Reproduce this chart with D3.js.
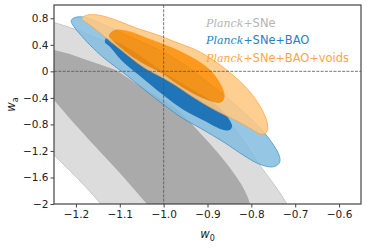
<!DOCTYPE html>
<html>
<head>
<meta charset="utf-8">
<title>w0 - wa constraints</title>
<script src="https://cdn.jsdelivr.net/npm/d3@7"></script>
<style>
  body { margin: 0; background: #fff; }
  text { font-family: "DejaVu Sans", sans-serif; }
</style>
</head>
<body>
<div id="chart"></div>
<script>

// ticks
const xTicks = [-1.2, -1.1, -1.0, -0.9, -0.8, -0.7, -0.6];
const yTicks = [0.8, 0.4, 0, -0.4, -0.8, -1.2, -1.6, -2];

// contour outlines, [w0, wa]
const sne95 = [[-1.305, 0.879], [-1.250, 0.739], [-1.214, 0.661], [-1.175, 0.563], [-1.134, 0.442],
  [-1.077, 0.246], [-1.008, -0.025], [-0.940, -0.312], [-0.894, -0.508], [-0.860, -0.689],
  [-0.815, -1.080], [-0.776, -1.457], [-0.744, -1.744], [-0.719, -2.000], [-0.698, -2.302],
  [-1.106, -2.302], [-1.143, -2.000], [-1.195, -1.623], [-1.250, -1.261], [-1.305, -0.885]];
const sne68 = [[-1.305, 0.427], [-1.250, 0.322], [-1.214, 0.261], [-1.182, 0.186], [-1.145, 0.103],
  [-1.106, 0.005], [-1.068, -0.161], [-1.020, -0.357], [-0.963, -0.613], [-0.917, -0.930],
  [-0.876, -1.231], [-0.842, -1.518], [-0.817, -1.774], [-0.803, -2.000], [-0.794, -2.302],
  [-0.997, -2.302], [-1.038, -2.000], [-1.100, -1.533], [-1.157, -1.126], [-1.209, -0.749],
  [-1.250, -0.432], [-1.305, -0.010]];

const bao95 = [[-1.211, 0.759], [-1.207, 0.796], [-1.198, 0.819], [-1.184, 0.819], [-1.163, 0.781],
  [-1.134, 0.698], [-1.100, 0.593], [-1.054, 0.457], [-1.001, 0.291], [-0.951, 0.095],
  [-0.906, -0.131], [-0.860, -0.372], [-0.815, -0.628], [-0.776, -0.885], [-0.751, -1.096],
  [-0.737, -1.261], [-0.735, -1.359], [-0.742, -1.420], [-0.755, -1.442], [-0.785, -1.390],
  [-0.819, -1.261], [-0.860, -1.080], [-0.917, -0.854], [-0.954, -0.719], [-0.999, -0.508],
  [-1.043, -0.281], [-1.088, -0.040], [-1.136, 0.201], [-1.168, 0.397], [-1.191, 0.563],
  [-1.204, 0.668]];
const bao68 = [[-1.131, 0.502], [-1.111, 0.457], [-1.077, 0.337], [-1.043, 0.186], [-1.001, -0.010],
  [-0.963, -0.161], [-0.929, -0.297], [-0.894, -0.432], [-0.867, -0.583], [-0.851, -0.719],
  [-0.844, -0.824], [-0.849, -0.885], [-0.867, -0.877], [-0.906, -0.749], [-0.954, -0.583],
  [-1.001, -0.357], [-1.054, -0.070], [-1.097, 0.171], [-1.122, 0.367], [-1.134, 0.442]];

const voids95 = [[-1.187, 0.796], [-1.177, 0.842], [-1.157, 0.854], [-1.134, 0.827], [-1.100, 0.751],
  [-1.061, 0.649], [-1.020, 0.563], [-0.976, 0.450], [-0.917, 0.291], [-0.856, 0.020],
  [-0.803, -0.312], [-0.773, -0.613], [-0.763, -0.809], [-0.765, -0.915], [-0.776, -0.949],
  [-0.808, -0.839], [-0.844, -0.711], [-0.883, -0.583], [-0.933, -0.387], [-0.974, -0.206],
  [-1.001, -0.101], [-1.043, 0.050], [-1.077, 0.216], [-1.111, 0.397], [-1.145, 0.578],
  [-1.168, 0.698], [-1.182, 0.759]];
const voids68 = [[-1.125, 0.533], [-1.118, 0.600], [-1.106, 0.631], [-1.077, 0.600], [-1.043, 0.517],
  [-1.001, 0.412], [-0.963, 0.307], [-0.917, 0.141], [-0.887, -0.025], [-0.869, -0.206],
  [-0.861, -0.357], [-0.865, -0.447], [-0.874, -0.477], [-0.894, -0.447], [-0.922, -0.372],
  [-0.951, -0.266], [-0.981, -0.138], [-1.001, -0.040], [-1.043, 0.103], [-1.077, 0.246],
  [-1.100, 0.367], [-1.115, 0.457]];

// legend
const legendParts = [["SNe"], ["SNe", "BAO"], ["SNe", "BAO", "voids"]];

const width = 366, height = 248;
const margin = {top: 5, right: 5, bottom: 44, left: 54};

const x = d3.scaleLinear().domain([-1.25, -0.55]).range([margin.left, width - margin.right]);
const y = d3.scaleLinear().domain([-2, 1]).range([height - margin.bottom, margin.top]);

const svg = d3.select("#chart").append("svg")
    .attr("width", width)
    .attr("height", height)
    .attr("viewBox", [0, 0, width, height]);

svg.append("defs").append("clipPath").attr("id", "clip")
  .append("rect")
    .attr("x", margin.left).attr("y", margin.top)
    .attr("width", width - margin.left - margin.right)
    .attr("height", height - margin.top - margin.bottom);

const contour = d3.line()
    .x(d => x(d[0]))
    .y(d => y(d[1]))
    .curve(d3.curveCatmullRomClosed.alpha(0.5));

const plot = svg.append("g").attr("clip-path", "url(#clip)");

const sets = [
  {outer: sne95, inner: sne68, light: "#dcdcdc", dark: "#aaaaaa", edge: "#c4c4c4", opacity: 1},
  {outer: bao95, inner: bao68, light: "#83bde0", dark: "#0064b2", edge: "#3d8fc6", opacity: 0.85},
  {outer: voids95, inner: voids68, light: "#ffc984", dark: "#ff8c00", edge: "#ffa53a", opacity: 0.88}
];

sets.forEach(s => {
  const g = plot.append("g").attr("opacity", s.opacity);
  g.append("path").attr("d", contour(s.outer)).attr("fill", s.light)
      .attr("stroke", s.edge).attr("stroke-width", 0.9);
  g.append("path").attr("d", contour(s.inner)).attr("fill", s.dark);
});

// reference lines at w0 = -1, wa = 0
plot.append("line")
    .attr("x1", x(-1)).attr("x2", x(-1))
    .attr("y1", margin.top).attr("y2", height - margin.bottom)
    .attr("stroke", "#555").attr("stroke-width", 0.8)
    .attr("stroke-dasharray", "3,1.3");
plot.append("line")
    .attr("x1", margin.left).attr("x2", width - margin.right)
    .attr("y1", y(0)).attr("y2", y(0))
    .attr("stroke", "#555").attr("stroke-width", 0.8)
    .attr("stroke-dasharray", "3,1.3");

// axes
const xAxis = svg.append("g")
    .attr("transform", `translate(0,${height - margin.bottom})`)
    .call(d3.axisBottom(x).tickValues(xTicks).tickFormat(d3.format(".1f"))
      .tickSizeOuter(0).tickSize(3.5).tickPadding(3.5));
const yAxis = svg.append("g")
    .attr("transform", `translate(${margin.left},0)`)
    .call(d3.axisLeft(y).tickValues(yTicks).tickFormat(d3.format("~g"))
      .tickSizeOuter(0).tickSize(3.5).tickPadding(2));

[xAxis, yAxis].forEach(a => {
  a.select(".domain").remove();
  a.selectAll(".tick line").attr("stroke", "#444").attr("stroke-width", 1);
  a.selectAll(".tick text").attr("fill", "#222")
      .style("font-family", "'DejaVu Sans', sans-serif").style("font-size", "10.5px");
});

svg.append("rect")
    .attr("x", margin.left).attr("y", margin.top)
    .attr("width", width - margin.left - margin.right)
    .attr("height", height - margin.top - margin.bottom)
    .attr("fill", "none").attr("stroke", "#444").attr("stroke-width", 1.2);

// axis labels
const xl = svg.append("text")
    .attr("x", (margin.left + width - margin.right) / 2)
    .attr("y", 238)
    .attr("text-anchor", "middle")
    .style("font-size", "11.5px")
    .attr("fill", "#222");
xl.append("tspan").style("font-style", "italic").text("w");
xl.append("tspan").attr("dy", 2.5).style("font-size", "8px").text("0");

const yl = svg.append("text")
    .attr("transform", `translate(15,${(margin.top + height - margin.bottom) / 2}) rotate(-90)`)
    .attr("text-anchor", "middle")
    .style("font-size", "11.5px")
    .attr("fill", "#222");
yl.append("tspan").style("font-style", "italic").text("w");
yl.append("tspan").attr("dy", 2.5).style("font-size", "8px").text("a");

// legend
const legendColors = ["#b4b4b4", "#2a7fbf", "#ffa545"];
legendParts.forEach((parts, i) => {
  const t = svg.append("text")
      .attr("x", 206)
      .attr("y", 26.5 + i * 17.8)
      .attr("fill", legendColors[i])
      .style("font-size", "11.5px");
  t.append("tspan").style("font-family", "'DejaVu Serif', serif")
      .style("font-style", "italic").style("font-size", "11px").text("Planck");
  parts.forEach(p => {
    t.append("tspan").style("font-family", "'DejaVu Serif', serif")
        .style("font-size", "11px").text("+");
    t.append("tspan").text(p);
  });
});

</script>
</body>
</html>
